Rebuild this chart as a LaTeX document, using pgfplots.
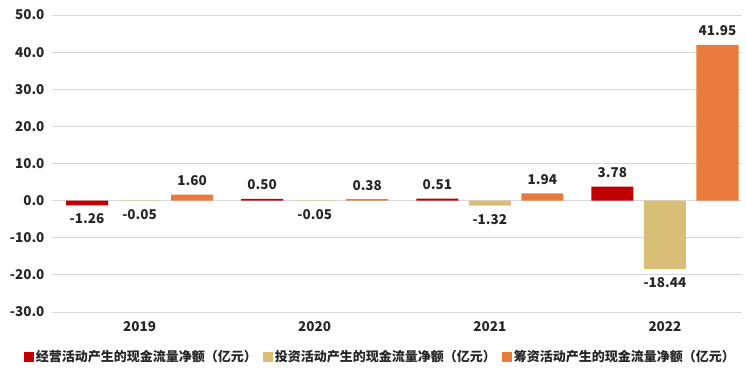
\documentclass[border=0pt]{standalone}
\usepackage{fontspec}
\setmainfont{Noto Sans CJK SC}
\usepackage{pgfplots}
\pgfplotsset{compat=1.18}
\definecolor{cOp}{HTML}{C00000}
\definecolor{cInv}{HTML}{D9BE75}
\definecolor{cFin}{HTML}{E97C3D}
\definecolor{cGrid}{HTML}{D9D9D9}
\definecolor{cTxt}{HTML}{262626}
\begin{document}
\begin{tikzpicture}
\begin{axis}[
  name=ax,
  scale only axis,
  width=690pt, height=297pt,
  xmin=-0.5, xmax=3.44,
  ymin=-30, ymax=50,
  ytick={-30,-20,...,50},
  xtick={0,1,2,3},
  xticklabels={2019,2020,2021,2022},
  axis line style={draw=none},
  major tick length=0pt,
  ymajorgrids,
  grid style={cGrid, line width=0.8pt},
  /pgf/number format/assume math mode=true,
  yticklabel style={/pgf/number format/fixed, /pgf/number format/fixed zerofill, /pgf/number format/precision=1, xshift=-4pt},
  tick label style={font=\fontsize{13.5}{15}\selectfont\bfseries, text=cTxt},
  xticklabel style={yshift=-6pt},
  ybar, bar width=0.24,
  nodes near coords,
  every node near coord/.append style={font=\fontsize{13.5}{15}\selectfont\bfseries, text=cTxt, inner sep=8.5pt,
     /pgf/number format/fixed, /pgf/number format/fixed zerofill, /pgf/number format/precision=2, /pgf/number format/assume math mode=true},
  legend columns=3,
  legend style={at={(axis description cs:0.476,0)}, anchor=north, yshift=-34pt,
     draw=none, font=\fontsize{13}{15}\selectfont\bfseries, text=cTxt,
     /tikz/every even column/.append style={column sep=4pt}},
  legend image code/.code={\fill[#1] (0pt,-5pt) rectangle (10pt,5pt);},
]
\addplot[fill=cOp, draw=none, bar shift=-0.3] coordinates {(0,-1.26) (1,0.50) (2,0.51) (3,3.78)};
\addplot[fill=cInv, draw=none, bar shift=0] coordinates {(0,-0.05) (1,-0.05) (2,-1.32) (3,-18.44)};
\addplot[fill=cFin, draw=none, bar shift=0.3] coordinates {(0,1.60) (1,0.38) (2,1.94) (3,41.95)};
\legend{经营活动产生的现金流量净额（亿元）,投资活动产生的现金流量净额（亿元）,筹资活动产生的现金流量净额（亿元）}
\end{axis}
\pgfresetboundingbox
\path ([xshift=-52pt,yshift=-59pt]ax.south west) rectangle ([xshift=5pt,yshift=15pt]ax.north east);
\end{tikzpicture}
\end{document}
